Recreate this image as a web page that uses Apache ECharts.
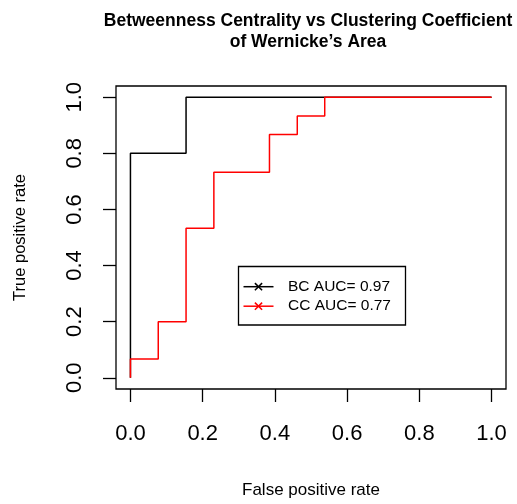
<!DOCTYPE html>
<html>
<head>
<meta charset="utf-8">
<script src="https://cdn.jsdelivr.net/npm/echarts@6/dist/echarts.min.js"></script>
<style>
  html, body { margin: 0; padding: 0; background: #fff; }
  #chart { width: 517px; height: 504px; }
</style>
</head>
<body>
<div id="chart"></div>
<script>
// ROC curve corner points (false positive rate, true positive rate)
const bcFpr = [0, 0, 0.154, 0.154, 1];
const bcTpr = [0, 0.8, 0.8, 1, 1];
const ccFpr = [0, 0, 0.077, 0.077, 0.154, 0.154, 0.231, 0.231, 0.385, 0.385, 0.462, 0.462, 0.538, 0.538, 1];
const ccTpr = [0, 0.067, 0.067, 0.2, 0.2, 0.533, 0.533, 0.733, 0.733, 0.867, 0.867, 0.933, 0.933, 1, 1];

// Axis ticks and their labels
const tickValues = [0, 0.2, 0.4, 0.6, 0.8, 1.0];
const tickLabels = ['0.0', '0.2', '0.4', '0.6', '0.8', '1.0'];

// Legend entries
const legendNames = ['BC AUC= 0.97', 'CC AUC= 0.77'];
const seriesColors = ['#000000', '#ff0000'];

const FONT = '"Liberation Sans", Arial, Helvetica, sans-serif';

function pairs(xs, ys) { return xs.map((x, i) => [x, ys[i]]); }
function labelFor(v) {
  const i = tickValues.findIndex(t => Math.abs(t - v) < 1e-9);
  return i >= 0 ? tickLabels[i] : '';
}

const chart = echarts.init(document.getElementById('chart'), null, { renderer: 'canvas' });

// Legend box drawn as graphic elements
const legendGraphics = [];
const lx = 238.5, ly = 266.5, lw = 167, lh = 58.5;
legendGraphics.push({
  type: 'rect', shape: { x: lx, y: ly, width: lw, height: lh },
  style: { fill: '#fff', stroke: '#000', lineWidth: 1.3 }, z: 10
});
legendNames.forEach((name, i) => {
  const cy = 286.7 + i * 19.5;
  const c = seriesColors[i];
  legendGraphics.push({
    type: 'line', shape: { x1: 243.5, y1: cy, x2: 273.5, y2: cy },
    style: { stroke: c, lineWidth: 1.5 }, z: 11
  });
  const mx = 258.5, r = 3.6;
  legendGraphics.push({
    type: 'line', shape: { x1: mx - r, y1: cy - r, x2: mx + r, y2: cy + r },
    style: { stroke: c, lineWidth: 1.5 }, z: 11
  });
  legendGraphics.push({
    type: 'line', shape: { x1: mx - r, y1: cy + r, x2: mx + r, y2: cy - r },
    style: { stroke: c, lineWidth: 1.5 }, z: 11
  });
  legendGraphics.push({
    type: 'text', x: 288, y: cy,
    style: { text: name, font: '15.5px ' + FONT, fill: '#000', verticalAlign: 'middle', align: 'left' },
    z: 11
  });
});

const option = {
  animation: false,
  backgroundColor: '#fff',
  title: {
    text: 'Betweenness Centrality vs Clustering Coefficient\nof Wernicke\u2019s Area',
    left: 303,
    top: 6,
    textAlign: 'center',
    textStyle: { fontFamily: FONT, fontSize: 17.5, fontWeight: 'bold', lineHeight: 21, color: '#000' }
  },
  grid: {
    left: 116, top: 86, width: 390, height: 304,
    show: true, borderColor: '#000', borderWidth: 1.3, backgroundColor: 'transparent'
  },
  xAxis: {
    type: 'value', min: -0.04, max: 1.04,
    name: 'False positive rate', nameLocation: 'middle', nameGap: 93,
    nameTextStyle: { fontFamily: FONT, fontSize: 17, color: '#000' },
    axisLine: { show: false, onZero: false },
    splitLine: { show: false },
    axisTick: { show: true, length: 13, inside: false, customValues: tickValues, lineStyle: { color: '#000', width: 1.3 } },
    axisLabel: { customValues: tickValues, formatter: labelFor, margin: 34,
      fontFamily: FONT, fontSize: 22, color: '#000' }
  },
  yAxis: {
    type: 'value', min: -0.04, max: 1.04,
    name: 'True positive rate', nameLocation: 'middle', nameGap: 87,
    nameTextStyle: { fontFamily: FONT, fontSize: 16.5, color: '#000' },
    axisLine: { show: false, onZero: false },
    splitLine: { show: false },
    axisTick: { show: true, length: 13, inside: false, customValues: tickValues, lineStyle: { color: '#000', width: 1.3 } },
    axisLabel: { customValues: tickValues, formatter: labelFor, margin: 30, rotate: 90,
      fontFamily: FONT, fontSize: 22, color: '#000' }
  },
  series: [
    {
      name: 'BC', type: 'line', data: pairs(bcFpr, bcTpr),
      showSymbol: false, symbol: 'none',
      lineStyle: { color: seriesColors[0], width: 1.5 }, z: 2
    },
    {
      name: 'CC', type: 'line', data: pairs(ccFpr, ccTpr),
      showSymbol: false, symbol: 'none',
      lineStyle: { color: seriesColors[1], width: 1.5 }, z: 3
    }
  ],
  graphic: legendGraphics
};

chart.setOption(option);
</script>
</body>
</html>
